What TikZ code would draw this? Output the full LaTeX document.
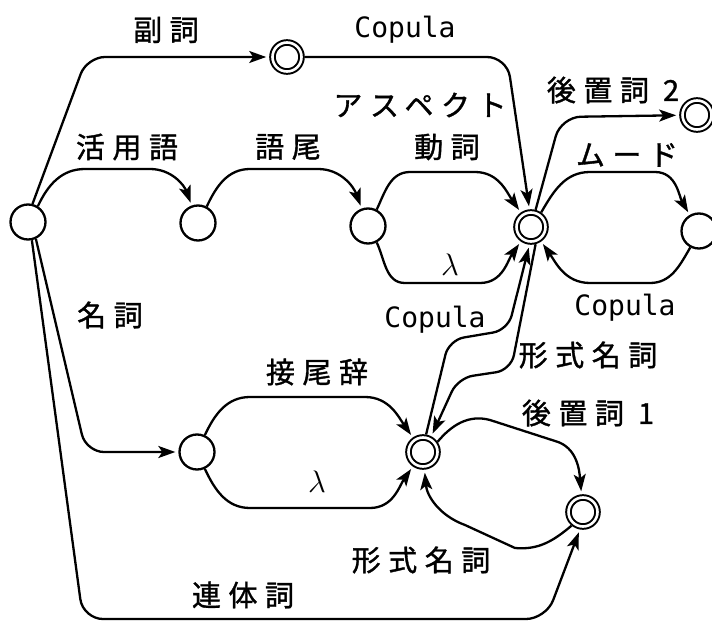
\documentclass[tikz,border=0pt]{standalone}
\usepackage{fontspec}
\newfontfamily\jpfont[LetterSpace=26,FakeBold=1.2]{Noto Sans CJK JP}
\newfontfamily\monofont{DejaVu Sans Mono}
\usetikzlibrary{arrows.meta}
\begin{document}
\begin{tikzpicture}[x=1pt,y=1pt,
  st/.style={circle,draw,line width=2.3pt,minimum size=35pt,inner sep=0pt},
  acc/.style={circle,draw,line width=2pt,double,double distance=2.6pt,minimum size=29pt,inner sep=0pt,outer sep=3.3pt},
  edge/.style={line width=2.3pt,-{Stealth[length=17pt,width=12pt,inset=4pt]},shorten >=3pt},
  lab/.style={font=\jpfont\fontsize{29}{29}\selectfont,inner sep=0pt},
  cop/.style={font=\monofont\fontsize{28}{28}\selectfont,inner sep=0pt},
  lam/.style={font=\fontsize{24.88}{25}\selectfont,inner sep=0pt,scale=1.25,transform shape}
]
\useasboundingbox (0,0) rectangle (712,625);
% states
\node[st]  (S0)  at (28,403) {};
\node[acc] (Adv) at (287,568) {};
\node[st]  (N1)  at (198,402) {};
\node[st]  (N2)  at (368,399) {};
\node[acc] (V)   at (531,398) {};
\node[st]  (M)   at (699,394) {};
\node[acc] (P2)  at (697,510) {};
\node[st]  (N3)  at (197,173) {};
\node[acc] (F)   at (423,173) {};
\node[acc] (P1)  at (583,113) {};
% edges
\draw[edge,rounded corners=18pt] (S0.76) -- (87,568) -- (Adv);
\draw[edge,rounded corners=20pt] (Adv) -- (507,568) -- (V.95);
\draw[edge] (S0.58) to[out=65,in=180] (85,456) -- (150,456) to[out=0,in=110] (N1.110);
\draw[edge] (N1.62) to[out=65,in=180] (250,456) -- (318,456) to[out=0,in=110] (N2.110);
\draw[edge] (N2.62) to[out=65,in=180] (410,453) -- (475,453) to[out=0,in=125] (V.125);
\draw[edge] (N2.-62) to[out=-65,in=180] (405,342) -- (480,342) to[out=0,in=-125] (V.-125);
\draw[edge] (V.55) to[out=60,in=180] (590,453) -- (655,453) to[out=0,in=120] (M.120);
\draw[edge] (M.-118) to[out=-120,in=0] (650,342) -- (590,342) to[out=180,in=-55] (V.-55);
\draw[edge,rounded corners=20pt] (V.75) -- (561,508) -- (P2);
\draw[edge,rounded corners=15pt] (F.80) -- (449,285) -- (508,295) -- (V.-95);
\draw[edge,rounded corners=15pt] (V.-75) -- (511,255) -- (458,247) -- (F.62);
\draw[edge] (F.35) to[out=50,in=165] (490,205) -- (555,184) to[out=-15,in=95] (P1.95);
\draw[edge] (P1.-130) to[out=-140,in=-5] (515,77) -- (465,100) to[out=160,in=-85] (F.-85);
\draw[edge] (N3.65) to[out=65,in=180] (250,228) -- (365,228) to[out=0,in=125] (F.125);
\draw[edge] (N3.-65) to[out=-65,in=180] (250,117) -- (370,117) to[out=0,in=-125] (F.-125);
\draw[edge,rounded corners=18pt] (S0.-65) -- (86,173) -- (N3);
\draw[edge,rounded corners=20pt] (S0.-78) -- (83,6) -- (546,6) -- (P1.-100);
% labels
\node[lab] (l1) at (166,595) {副詞};
\node[cop] (l2) at (405,595) {Copula};
\node[lab] (l3) at (420,520) {アスペクト};
\node[lab] (l4) at (447,478) {動詞};
\node[lab] (l5) at (127,478) {活用語};
\node[lab] (l6) at (288,478) {語尾};
\node[lab] (l7) at (627,470) {ムード};
\node[lab] (l8) at (613,535) {後置詞 2};
\node[lam] (l9) at (450,360) {$\lambda$};
\node[cop] (l10) at (625,317) {Copula};
\node[cop] (l11) at (435,305) {Copula};
\node[lab] (l12) at (588,270) {形式名詞};
\node[lab] (l13) at (110,310) {名詞};
\node[lab] (l14) at (317,253) {接尾辞};
\node[lab] (l15) at (588,212) {後置詞 1};
\node[lam] (l16) at (317,143) {$\lambda$};
\node[lab] (l17) at (421,65) {形式名詞};
\node[lab] (l18) at (243,30) {連体詞};
\end{tikzpicture}
\end{document}
